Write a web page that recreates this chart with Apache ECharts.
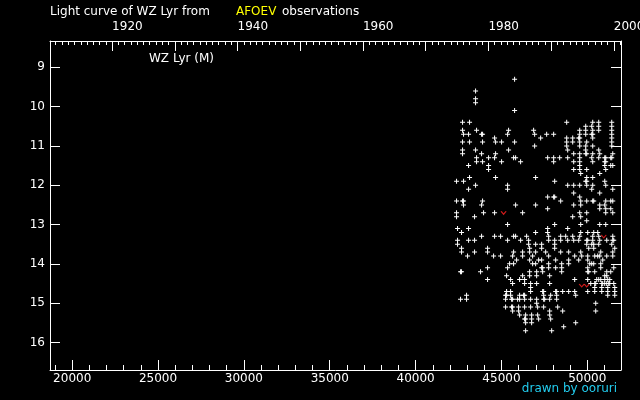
<!DOCTYPE html>
<html><head><meta charset="utf-8">
<script src="https://cdn.jsdelivr.net/npm/echarts@6/dist/echarts.min.js"></script>
<style>html,body{margin:0;padding:0;background:#000}#c{width:640px;height:400px}</style>
</head><body><div id="c"></div>
<script>
// Magnitude rows (visual magnitude) and the JD-2400000 of each observation at that magnitude
const magnitudes = [9.3,9.6,9.8,9.9,10.1,10.4,10.5,10.6,10.7,10.8,10.9,11.0,11.1,11.2,11.3,11.4,11.5,11.6,11.7,11.8,11.9,12.0,12.1,12.2,12.3,12.4,12.5,12.6,12.7,12.8,12.9,13.0,13.1,13.2,13.3,13.4,13.5,13.6,13.7,13.8,13.9,14.0,14.1,14.2,14.3,14.4,14.5,14.6,14.7,14.8,14.9,15.0,15.1,15.2,15.3,15.4,15.5,15.6,15.7];
const jdAtMag = [
 [45766],
 [43493],
 [43493],
 [43493],
 [45766],
 [42735,43143,48800,50316,50666,51424],
 [49908,50258,50666,51424],
 [42735,43551,45416,46874,49558,49908,50316,50666,51424],
 [42793,43085,43843,43901,45358,46933,47633,48041,49558,49908,50258,50316,51424],
 [44600,47283,48800,49150,49500,49558,50316,51424],
 [42735,43143,43901,44659,45008,45766,48800,49150,49558,49966,51424],
 [46933,48800,49558,49908,50316,51424],
 [42735,43493,45416,48858,49908,50666],
 [42735,43843,44659,49208,49558,49908,49966,50316,50724,51483],
 [43551,44251,44600,45708,45825,47691,48041,48391,48858,49558,50258,50666,51016,51074,51366,51424],
 [43551,43901,45008,46116,48041,49208,49558,50316,51016,51074],
 [43085,44251,49558,51016,51366,51483],
 [44251,49208,49558,49966,51074],
 [49616,50724],
 [43143,44659,46991,49966,50316],
 [42385,42793,48100,49908,49966,51016],
 [43493,45358,48858,49208,49558,49966,50316,51074],
 [43085,45358,50258,51483],
 [49208,50724],
 [47691,48041,48100,49558],
 [42385,42735,42793,43901,48450,49616,49966,50316,50375,51074,51366,51483],
 [42793,43843,45825,46991,49208,49616,50724,51016],
 [47691,50724,51074,51366],
 [42385,43959,44600,46233,49558,49966,51074,51483],
 [42385,43434,49150,49616],
 [49966],
 [45358,48100,49616,50724,51074],
 [42443,43085,47691,48858],
 [42676,46991,47691,49616,50025,50375,50608],
 [43843,44600,44950,45708,45825,46466,47750,48450,48741,49150,49558,50316,50666,51483],
 [42443,43085,43434,45358,46116,46583,47750,48100,48450,48858,49208,49500,49966,50025,50316,50724,51133,51483,51541],
 [42443,46583,46991,47341,48100,49966,50258,50375,50666,51424],
 [42676,44192,46641,47341,48100,50083,50375,51599],
 [42676,43434,44192,45708,46233,46641,46991,47575,48450,48916,49616,50783,51483],
 [43026,44542,44950,45650,46233,46816,47750,49266,49675,50025,50433,50608,50724,51133,51483],
 [45883,46641,47166,47341,48158,48916,49500,50025,50899],
 [45475,45708,46816,46991,47750,48508,48916,50141,50258,50375,50783],
 [44192,45358,47341,47400,47750,48158,48508,50025,50783,51541],
 [42618,42676,43784,46641,47050,47400,48508,50025,50083,50433,51133,51366],
 [45300,46233,46641,47050,47808,51016,51133],
 [44192,45533,46058,46349,49266,50025,50550,50666,50783,51016,51191,51308],
 [45650,46349,46699,47050,47808,50200,50433,50491,50841,50899,51016,51133,51249,51308,51541],
 [46699,50433,50841,51191,51599],
 [45300,45533,46699,47400,47458,48158,48216,48566,48916,49266,50025,50433,50841,51191,51599],
 [42968,45241,45300,45533,46058,46291,46349,47458,47866,48216,49325,51191,51599],
 [42618,42968,45241,45591,45650,45941,46058,46349,46699,47050,47458,47516,47808,48216],
 [47050,50491],
 [45241,45591,45650,46000,46349,46699,47108,47458,48275],
 [45650,46000,47808,48566,50491],
 [46058,46408,46758,47108,47808],
 [46349,46408,46758,47166,47866],
 [46408,46758,49325],
 [48625],
 [46408,47925]
];
// "fainter than" estimates (red marks): [JD-2400000, magnitude]
const fainterThan = [[45125,12.7],[50958,13.3],[49675,14.55],[49966,14.55]];
const jdTicks = [20000,25000,30000,35000,40000,45000,50000];
const jdMinorTicks = [19000,20000,21000,22000,23000,24000,25000,26000,27000,28000,29000,30000,31000,32000,33000,34000,35000,36000,37000,38000,39000,40000,41000,42000,43000,44000,45000,46000,47000,48000,49000,50000,51000];
const yearLabels = [1920,1940,1960,1980,2000];
const yearMajorTicks = [1920,1930,1940,1950,1960,1970,1980,1990,2000];
const yearMinorTicks = [];
for (let y = 1911; y <= 2001; y++) yearMinorTicks.push(y);
const magTicks = [9,10,11,12,13,14,15,16];

const points = [];
magnitudes.forEach((m, i) => jdAtMag[i].forEach(j => points.push([j, m])));

const JD_MIN = 18707, JD_MAX = 51963;
const toYear = jd => 2000 + (jd - 51544.5) / 365.25;
const FONT = 'DejaVu Sans';
const white = '#ffffff';
const plain = v => String(Math.round(v));

const chart = echarts.init(document.getElementById('c'), null, {renderer: 'canvas'});
const baseX = (extra) => Object.assign({
  type: 'value', gridIndex: 0, min: JD_MIN, max: JD_MAX,
  splitLine: {show: false},
  axisLine: {show: true, onZero: false, lineStyle: {color: white, width: 1}},
}, extra);
chart.setOption({
  backgroundColor: '#000',
  animation: false,
  grid: {left: 50, right: 19, top: 41, bottom: 30, containLabel: false, outerBoundsMode: 'none'},
  xAxis: [
    baseX({position: 'bottom',
      axisTick: {show: true, inside: true, length: 10, customValues: jdTicks, lineStyle: {color: white}},
      axisLabel: {show: true, customValues: jdTicks, formatter: plain, color: white, fontFamily: FONT, fontSize: 12, margin: 3, hideOverlap: false}
    }),
    baseX({position: 'bottom',
      axisLine: {show: false},
      axisTick: {show: true, inside: true, length: 5, customValues: jdMinorTicks, lineStyle: {color: white}},
      axisLabel: {show: false}
    }),
    baseX({position: 'top', min: toYear(JD_MIN), max: toYear(JD_MAX),
      axisTick: {show: true, inside: true, length: 10, customValues: yearMajorTicks, lineStyle: {color: white}},
      axisLabel: {show: true, customValues: yearLabels, formatter: plain, color: white, fontFamily: FONT, fontSize: 12, margin: 8, align: 'left', hideOverlap: false}
    }),
    baseX({position: 'top', min: toYear(JD_MIN), max: toYear(JD_MAX),
      axisLine: {show: false},
      axisTick: {show: true, inside: true, length: 4, customValues: yearMinorTicks, lineStyle: {color: white}},
      axisLabel: {show: false}
    })
  ],
  yAxis: [
    {type: 'value', position: 'left', inverse: true, min: 8.33, max: 16.70,
      splitLine: {show: false},
      axisLine: {show: true, onZero: false, lineStyle: {color: white}},
      axisTick: {show: true, inside: true, length: 10, customValues: magTicks, lineStyle: {color: white}},
      axisLabel: {show: true, customValues: magTicks, formatter: plain, color: white, fontFamily: FONT, fontSize: 12, margin: 5}
    },
    {type: 'value', position: 'right', inverse: true, min: 8.33, max: 16.70,
      splitLine: {show: false},
      axisLine: {show: true, onZero: false, lineStyle: {color: white}},
      axisTick: {show: true, inside: true, length: 10, customValues: magTicks, lineStyle: {color: white}},
      axisLabel: {show: false}
    }
  ],
  series: [
    {type: 'scatter', xAxisIndex: 0, yAxisIndex: 0, data: points,
      symbol: 'path://M2,0h1v5h-1z M0,2h5v1h-5z', symbolSize: 5,
      itemStyle: {color: white, opacity: 1}, silent: true},
    {type: 'scatter', xAxisIndex: 0, yAxisIndex: 0, data: fainterThan,
      symbol: 'path://M0,0L2,2L4,0', symbolSize: [5, 3],
      itemStyle: {color: 'rgba(0,0,0,0)', borderColor: '#ff2020', borderWidth: 1}, silent: true}
  ],
  graphic: [
    {type: 'text', left: 50, top: 6, style: {text: 'Light curve of WZ Lyr from', fill: white, font: '12px "DejaVu Sans"'}},
    {type: 'text', left: 236, top: 6, style: {text: 'AFOEV', fill: '#ffff00', font: '12px "DejaVu Sans"'}},
    {type: 'text', left: 282, top: 6, style: {text: 'observations', fill: white, font: '12px "DejaVu Sans"'}},
    {type: 'text', left: 149, top: 53, style: {text: 'WZ Lyr (M)', fill: white, font: '12px "DejaVu Sans"'}},
    {type: 'text', right: 23, top: 383, style: {text: 'drawn by ooruri', fill: '#22ccee', font: '12px "DejaVu Sans"'}}
  ]
});
</script></body></html>
